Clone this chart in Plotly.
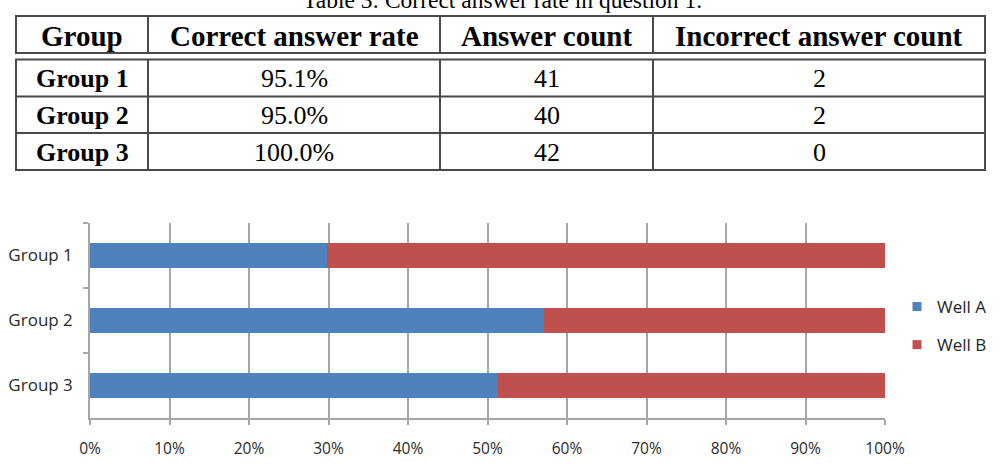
import plotly.graph_objects as go

# ---------------- data ----------------
groups = ["Group 1", "Group 2", "Group 3"]
well_a = [29.8, 57.1, 51.3]
well_b = [70.2, 42.9, 48.7]
series_names = ["Well A", "Well B"]
x_ticks = [0, 10, 20, 30, 40, 50, 60, 70, 80, 90, 100]
x_tick_labels = ["0%", "10%", "20%", "30%", "40%", "50%", "60%", "70%", "80%", "90%", "100%"]

caption = "Table 3: Correct answer rate in question 1."
table_header = ["Group", "Correct answer rate", "Answer count", "Incorrect answer count"]
table_groups = ["Group 1", "Group 2", "Group 3"]
correct_rates = ["95.1%", "95.0%", "100.0%"]
answer_counts = [41, 40, 42]
incorrect_counts = [2, 2, 0]

# ---------------- layout geometry (pixels) ----------------
W, H = 999, 469
L, R, T, B = 90, 114, 223, 51
PW, PH = W - L - R, H - T - B


def px(x):
    return (x - L) / PW


def py(y):
    return (H - B - y) / PH


col_edges = [16, 148, 440, 653, 985]
header_edges = [16, 53]
body_edges = [59.5, 96.5, 133, 170]

BLUE = "#4F81BD"
RED = "#C0504D"
GRID = "#A6A6A6"
TXT = "#2b2b2b"
LINE = "#4a4a4a"
SERIF = "Liberation Serif, Times New Roman, serif"
SANS = "Open Sans, Noto Sans, sans-serif"

fig = go.Figure()
for name, vals, col in [(series_names[0], well_a, BLUE), (series_names[1], well_b, RED)]:
    fig.add_trace(go.Bar(
        y=groups, x=vals, name=name, orientation="h",
        marker=dict(color=col, line=dict(width=0)),
        showlegend=False, legendgroup=name,
    ))
    fig.add_trace(go.Scatter(
        x=[None], y=[None], mode="markers", name=name, legendgroup=name,
        marker=dict(symbol="square", size=9, color=col),
        showlegend=True,
    ))

shapes = []
shapes.append(dict(type="rect", xref="paper", yref="paper",
                   x0=px(col_edges[0]), x1=px(col_edges[-1]),
                   y0=py(header_edges[0]), y1=py(header_edges[1]),
                   line=dict(color=LINE, width=2)))
shapes.append(dict(type="rect", xref="paper", yref="paper",
                   x0=px(col_edges[0]), x1=px(col_edges[-1]),
                   y0=py(body_edges[0]), y1=py(body_edges[-1]),
                   line=dict(color=LINE, width=2)))
for xe in col_edges[1:-1]:
    for (a, b) in [(header_edges[0], header_edges[1]), (body_edges[0], body_edges[-1])]:
        shapes.append(dict(type="line", xref="paper", yref="paper",
                           x0=px(xe), x1=px(xe), y0=py(a), y1=py(b),
                           line=dict(color=LINE, width=2)))
for ye in body_edges[1:-1]:
    shapes.append(dict(type="line", xref="paper", yref="paper",
                       x0=px(col_edges[0]), x1=px(col_edges[-1]), y0=py(ye), y1=py(ye),
                       line=dict(color=LINE, width=2)))

annotations = []
annotations.append(dict(text=caption, xref="paper", yref="paper",
                        x=px(502), y=py(0), xanchor="center", yanchor="middle",
                        showarrow=False, font=dict(family=SERIF, size=23.5, color="black")))
col_centers = [(col_edges[i] + col_edges[i + 1]) / 2 for i in range(4)]
hy = (header_edges[0] + header_edges[1]) / 2 + 1
for c, t in zip(col_centers, table_header):
    annotations.append(dict(text=f"<b>{t}</b>", xref="paper", yref="paper",
                            x=px(c), y=py(hy), xanchor="center", yanchor="middle",
                            showarrow=False, font=dict(family=SERIF, size=29, color="black")))
for i in range(3):
    ry = (body_edges[i] + body_edges[i + 1]) / 2 + 0.5
    row = [f"<b>{table_groups[i]}</b>", correct_rates[i], str(answer_counts[i]), str(incorrect_counts[i])]
    for c, t in zip(col_centers, row):
        annotations.append(dict(text=t, xref="paper", yref="paper",
                                x=px(c), y=py(ry), xanchor="center", yanchor="middle",
                                showarrow=False, font=dict(family=SERIF, size=26, color="black")))

fig.update_layout(
    width=W, height=H,
    margin=dict(l=L, r=R, t=T, b=B, pad=0, autoexpand=False),
    paper_bgcolor="white", plot_bgcolor="white",
    barmode="stack", bargap=0.615,
    font=dict(family=SANS, color=TXT),
    showlegend=True,
    legend=dict(x=px(897), xanchor="left", y=py(326), yanchor="middle",
                font=dict(family=SANS, size=17, color="#262626"),
                tracegroupgap=13, bgcolor="rgba(0,0,0,0)", itemclick=False),
    shapes=shapes, annotations=annotations,
    xaxis=dict(range=[0, 100], tickmode="array", tickvals=x_ticks, ticktext=x_tick_labels,
               showgrid=True, gridcolor=GRID, gridwidth=1.5,
               showline=True, linecolor=GRID, linewidth=1.5,
               ticks="outside", ticklen=5, tickcolor=GRID, tickwidth=1.5,
               zeroline=False, ticklabelstandoff=11,
               tickfont=dict(family=SANS, size=15.5, color=TXT), fixedrange=True),
    yaxis=dict(autorange="reversed", categoryorder="array", categoryarray=groups,
               showgrid=False, showline=True, linecolor=GRID, linewidth=1.5,
               ticks="outside", ticklen=5, tickcolor=GRID, tickwidth=1.5,
               tickson="boundaries", ticklabelstandoff=12,
               tickfont=dict(family=SANS, size=17, color=TXT), fixedrange=True),
)

fig.write_html("out.html")
